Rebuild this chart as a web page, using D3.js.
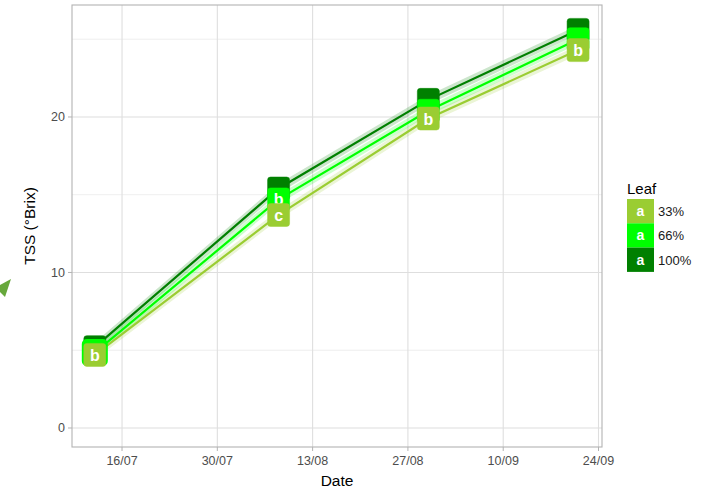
<!DOCTYPE html>
<html><head><meta charset="utf-8">
<script src="https://cdn.jsdelivr.net/npm/d3@7"></script>
<style>body{margin:0;background:#fff;} svg{display:block;font-family:"Liberation Sans",Arial,sans-serif;}</style>
</head><body>
<svg id="c" width="716" height="491"></svg>
<script>
const dates = ["2019-07-12","2019-08-08","2019-08-30","2019-09-21"];
const leafLevels = ["33%","66%","100%"];
const leafColors = ["#9acd32","#00ff00","#008000"];
const tss33 = [4.7, 13.7, 19.9, 24.3];
const tss66 = [4.85, 14.7, 20.4, 25.0];
const tss100 = [5.2, 15.4, 21.1, 25.6];
const letters33 = ["b","c","b","b"];
const letters66 = ["a","b","a","a"];
const letters100 = ["a","a","a","a"];
const legendLetters = ["a","a","a"];
const xTickDates = ["2019-07-16","2019-07-30","2019-08-13","2019-08-27","2019-09-10","2019-09-24"];
const yTicks = [0,10,20];
const yMinor = [5,15,25];
const band = 0.3;

const parse = d3.timeParse("%Y-%m-%d");
const series = [
  {name:"100%", color:leafColors[2], vals:tss100, letters:letters100},
  {name:"66%", color:leafColors[1], vals:tss66, letters:letters66},
  {name:"33%", color:leafColors[0], vals:tss33, letters:letters33}
];

const svg = d3.select("#c");
const L=72, R=602, T=5, B=447;
const x = d3.scaleTime().domain([new Date(2019,6,8,15,36), new Date(2019,8,24,12,20)]).range([L,R]);
const y = d3.scaleLinear().domain([-1.222, 27.2]).range([B,T]);

// grid
const g = svg.append("g");
g.selectAll(".ym").data(yMinor).join("line")
  .attr("x1",L).attr("x2",R).attr("y1",d=>y(d)).attr("y2",d=>y(d))
  .attr("stroke","#e3e3e3").attr("stroke-width",0.6);
g.selectAll(".yM").data(yTicks).join("line")
  .attr("x1",L).attr("x2",R).attr("y1",d=>y(d)).attr("y2",d=>y(d))
  .attr("stroke","#dedede").attr("stroke-width",1.1);
g.selectAll(".xM").data(xTickDates).join("line")
  .attr("y1",T).attr("y2",B).attr("x1",d=>x(parse(d))).attr("x2",d=>x(parse(d)))
  .attr("stroke","#dedede").attr("stroke-width",1.1);

// ribbons
const area = d3.area().x((d,i)=>x(parse(dates[i]))).y0(d=>y(d-band)).y1(d=>y(d+band));
const line = d3.line().x((d,i)=>x(parse(dates[i]))).y(d=>y(d));
[...series].reverse().forEach(s=>{
  svg.append("path").datum(s.vals).attr("d",area).attr("fill",s.color).attr("opacity",0.2);
});
series.forEach(s=>{
  svg.append("path").datum(s.vals).attr("d",line).attr("fill","none").attr("stroke",s.color).attr("stroke-width",2.2);
});

// labels (100% first, 33% on top); text hidden where a later label covers it
const lw=22, lh=23;
series.forEach((s,si)=>{
  const gg = svg.append("g");
  s.vals.forEach((v,i)=>{
    const cx = x(parse(dates[i])), cy = y(v);
    gg.append("rect").attr("x",cx-lw/2).attr("y",cy-lh/2).attr("width",lw).attr("height",lh)
      .attr("rx",3).attr("fill",s.color).attr("stroke",s.color).attr("stroke-width",s.name==="66%"&&i===0?4:0.5);
    const covered = series.slice(si+1).some(o=>Math.abs(y(o.vals[i])-cy) < 11.8);
    if(!covered){
      gg.append("text").attr("x",cx).attr("y",cy+6).attr("text-anchor","middle")
        .attr("fill","#fff").attr("font-weight","bold").attr("font-size",16).text(s.letters[i]);
    }
  });
});

// panel border
svg.append("rect").attr("x",L).attr("y",T).attr("width",R-L).attr("height",B-T)
  .attr("fill","none").attr("stroke","#b3b3b3").attr("stroke-width",1.1);

// axes
const xa = svg.append("g");
xTickDates.forEach(d=>{
  const px = x(parse(d));
  xa.append("line").attr("x1",px).attr("x2",px).attr("y1",B).attr("y2",B+4).attr("stroke","#b3b3b3");
  xa.append("text").attr("x",px).attr("y",B+18).attr("text-anchor","middle").attr("fill","#4d4d4d")
    .attr("font-size",12.5).text(d3.timeFormat("%d/%m")(parse(d)));
});
yTicks.forEach(v=>{
  const py = y(v);
  xa.append("line").attr("x1",L-4).attr("x2",L).attr("y1",py).attr("y2",py).attr("stroke","#b3b3b3");
  xa.append("text").attr("x",L-7).attr("y",py+4.5).attr("text-anchor","end").attr("fill","#4d4d4d")
    .attr("font-size",12.5).text(v);
});
svg.append("text").attr("x",(L+R)/2).attr("y",486).attr("text-anchor","middle").attr("font-size",15.5).attr("fill","#000").text("Date");
svg.append("text").attr("transform","translate(35,"+((T+B)/2)+") rotate(-90)").attr("text-anchor","middle")
  .attr("font-size",15.5).attr("fill","#000").text("TSS (°Brix)");

// stray arrow fragment
svg.append("polygon").attr("points","11,279 0,285 0,292 5,297").attr("fill","#67a83c");

// legend
const lg = svg.append("g");
lg.append("text").attr("x",627).attr("y",194).attr("font-size",15).attr("fill","#000").text("Leaf");
leafLevels.forEach((nm,i)=>{
  const ky = 199 + i*24.3;
  lg.append("rect").attr("x",627).attr("y",ky).attr("width",27).attr("height",24.3).attr("fill",leafColors[i]);
  lg.append("text").attr("x",640.5).attr("y",ky+17).attr("text-anchor","middle").attr("fill","#fff")
    .attr("font-weight","bold").attr("font-size",14).text(legendLetters[i]);
  lg.append("text").attr("x",658).attr("y",ky+17).attr("font-size",13).attr("fill","#1a1a1a").text(nm);
});
</script>
</body></html>
